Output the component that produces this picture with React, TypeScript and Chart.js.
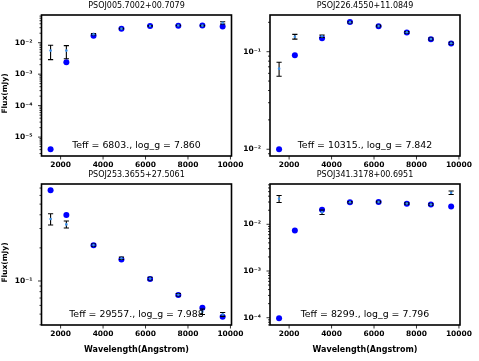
import { useEffect, useRef } from "react";
import { Chart, registerables } from "chart.js";

Chart.register(...registerables);

// ---------- data ----------
const WAVELENGTHS = [1528, 2271, 3551, 4866, 6215, 7545, 8679, 9633];
const X_TICKS = [2000, 4000, 6000, 8000, 10000];
const X_MIN = 1100;
const X_MAX = 10050;

const TITLES = [
  "PSOJ005.7002+00.7079",
  "PSOJ226.4550+11.0849",
  "PSOJ253.3655+27.5061",
  "PSOJ341.3178+00.6951",
];
const NOTES = [
  "Teff = 6803., log_g = 7.860",
  "Teff = 10315., log_g = 7.842",
  "Teff = 29557., log_g = 7.988",
  "Teff = 8299., log_g = 7.796",
];

const MODEL_1 = [4.1e-6, 2.4e-3, 0.0167, 0.0278, 0.034, 0.0346, 0.035, 0.033];
const OBS_1 = [5.6e-3, 5.6e-3, 0.0185, 0.028, 0.034, 0.0352, 0.0348, 0.0428];
const ERR_1 = [2.7e-3, 2.5e-3, 0.001, 0.0008, 0.0008, 0.0008, 0.0008, 0.0035];
const Y_RANGE_1 = [2.51e-6, 0.0759];
const Y_MAJOR_1 = [1e-5, 1e-4, 1e-3, 1e-2];
const Y_LABELS_1 = ["10⁻⁵", "10⁻⁴", "10⁻³", "10⁻²"];

const MODEL_2 = [0.01, 0.092, 0.137, 0.201, 0.182, 0.157, 0.134, 0.121];
const OBS_2 = [0.067, 0.1425, 0.144, 0.2, 0.183, 0.158, 0.135, 0.122];
const ERR_2 = [0.011, 0.008, 0.004, 0.003, 0.003, 0.003, 0.003, 0.003];
const Y_RANGE_2 = [0.00853, 0.2377];
const Y_MAJOR_2 = [1e-2, 1e-1];
const Y_LABELS_2 = ["10⁻²", "10⁻¹"];

const MODEL_3 = [0.668, 0.398, 0.211, 0.157, 0.104, 0.0746, 0.0572, 0.0473];
const OBS_3 = [0.366, 0.327, 0.212, 0.161, 0.105, 0.075, 0.0526, 0.0497];
const ERR_3 = [0.043, 0.024, 0.005, 0.004, 0.003, 0.002, 0.003, 0.002];
const Y_RANGE_3 = [0.0398, 0.762];
const Y_MAJOR_3 = [1e-1];
const Y_LABELS_3 = ["10⁻¹"];

const MODEL_4 = [9.7e-5, 7.4e-3, 0.0206, 0.0296, 0.03, 0.0277, 0.0265, 0.024];
const OBS_4 = [0.0353, null, 0.0182, 0.0296, 0.03, 0.0278, 0.0265, 0.0475];
const ERR_4 = [0.006, null, 0.002, 0.001, 0.001, 0.001, 0.001, 0.004];
const Y_RANGE_4 = [6.98e-5, 0.0729];
const Y_MAJOR_4 = [1e-4, 1e-3, 1e-2];
const Y_LABELS_4 = ["10⁻⁴", "10⁻³", "10⁻²"];

const FONT = "DejaVu Sans";

type PanelSpec = {
  title: string;
  note: string;
  model: (number | null)[];
  obs: (number | null)[];
  err: (number | null)[];
  yRange: number[];
  yMajor: number[];
  yLabels: string[];
  left: number;
  top: number;
  width: number;
  height: number;
  axisWidth: number;
  padRight: number;
  axisHeight: number;
  xTitle: boolean;
  yTitle: boolean;
};

const PANELS: PanelSpec[] = [
  {
    title: TITLES[0], note: NOTES[0], model: MODEL_1, obs: OBS_1, err: ERR_1,
    yRange: Y_RANGE_1, yMajor: Y_MAJOR_1, yLabels: Y_LABELS_1,
    left: 0, top: 0, width: 250, height: 180, axisWidth: 41.5, padRight: 18.5, axisHeight: 24,
    xTitle: false, yTitle: true,
  },
  {
    title: TITLES[1], note: NOTES[1], model: MODEL_2, obs: OBS_2, err: ERR_2,
    yRange: Y_RANGE_2, yMajor: Y_MAJOR_2, yLabels: Y_LABELS_2,
    left: 240, top: 0, width: 239, height: 180, axisWidth: 30, padRight: 19, axisHeight: 24,
    xTitle: false, yTitle: false,
  },
  {
    title: TITLES[2], note: NOTES[2], model: MODEL_3, obs: OBS_3, err: ERR_3,
    yRange: Y_RANGE_3, yMajor: Y_MAJOR_3, yLabels: Y_LABELS_3,
    left: 0, top: 169, width: 250, height: 192, axisWidth: 41.5, padRight: 18.5, axisHeight: 36,
    xTitle: true, yTitle: true,
  },
  {
    title: TITLES[3], note: NOTES[3], model: MODEL_4, obs: OBS_4, err: ERR_4,
    yRange: Y_RANGE_4, yMajor: Y_MAJOR_4, yLabels: Y_LABELS_4,
    left: 240, top: 169, width: 239, height: 192, axisWidth: 30, padRight: 19, axisHeight: 36,
    xTitle: true, yTitle: false,
  },
];

// log-axis tick positions (major decades plus 2..9 minor marks)
function logTicks(min: number, max: number) {
  const out: { value: number; major: boolean }[] = [];
  const d0 = Math.floor(Math.log10(min));
  const d1 = Math.ceil(Math.log10(max));
  for (let d = d0; d <= d1; d++) {
    for (let k = 1; k <= 9; k++) {
      const v = k * Math.pow(10, d);
      if (v >= min && v <= max) out.push({ value: v, major: k === 1 });
    }
  }
  return out;
}

function Panel({ spec }: { spec: PanelSpec }) {
  const ref = useRef<HTMLCanvasElement | null>(null);

  useEffect(() => {
    if (!ref.current) return;
    const obsPts = WAVELENGTHS.map((w, i) => ({ x: w, y: spec.obs[i] })).filter((p) => p.y != null);
    const modelPts = WAVELENGTHS.map((w, i) => ({ x: w, y: spec.model[i] })).filter((p) => p.y != null);

    const decor = {
      id: "decor",
      beforeDatasetDraw(chart: any, args: any) {
        if (args.index !== 0) return;
        const xs = chart.scales.x;
        const ys = chart.scales.y;
        const ctx = chart.ctx;
        ctx.save();
        ctx.strokeStyle = "#000";
        ctx.lineWidth = 1.1;
        WAVELENGTHS.forEach((w, i) => {
          const o = spec.obs[i];
          const e = spec.err[i];
          if (o == null || e == null) return;
          const px = xs.getPixelForValue(w);
          const y1 = ys.getPixelForValue(o - e);
          const y2 = ys.getPixelForValue(o + e);
          ctx.beginPath();
          ctx.moveTo(px, y1);
          ctx.lineTo(px, y2);
          ctx.moveTo(px - 2.6, y1);
          ctx.lineTo(px + 2.6, y1);
          ctx.moveTo(px - 2.6, y2);
          ctx.lineTo(px + 2.6, y2);
          ctx.stroke();
        });
        ctx.restore();
      },
      afterDraw(chart: any) {
        const { ctx, chartArea } = chart;
        const xs = chart.scales.x;
        const ys = chart.scales.y;
        ctx.save();
        // tick marks
        ctx.strokeStyle = "#000";
        ctx.lineWidth = 0.8;
        ctx.beginPath();
        xs.ticks.forEach((t: any) => {
          const px = xs.getPixelForValue(t.value);
          ctx.moveTo(px, chartArea.bottom);
          ctx.lineTo(px, chartArea.bottom + 3.5);
        });
        ys.ticks.forEach((t: any) => {
          const py = ys.getPixelForValue(t.value);
          const len = t.major ? 3.5 : 2;
          ctx.moveTo(chartArea.left, py);
          ctx.lineTo(chartArea.left - len, py);
        });
        ctx.stroke();
        // frame
        ctx.lineWidth = 1.6;
        ctx.strokeRect(chartArea.left, chartArea.top, chartArea.right - chartArea.left, chartArea.bottom - chartArea.top);
        // annotation
        ctx.fillStyle = "#000";
        ctx.font = `9.4px "${FONT}"`;
        ctx.textAlign = "center";
        ctx.textBaseline = "middle";
        ctx.fillText(spec.note, (chartArea.left + chartArea.right) / 2, chartArea.bottom - 10);
        // y label
        if (spec.yTitle) {
          ctx.font = `bold 7.5px "${FONT}"`;
          ctx.translate(5.5, (chartArea.top + chartArea.bottom) / 2 + 8);
          ctx.rotate(-Math.PI / 2);
          ctx.fillText("Flux(mJy)", 0, 0);
        }
        ctx.restore();
      },
    };

    const tickFont = { family: FONT, size: 7.5, weight: "bold" as const, lineHeight: 1.2 };
    const labelFont = { family: FONT, size: 8, weight: "bold" as const, lineHeight: 1.2 };

    const chart = new Chart(ref.current, {
      type: "scatter",
      data: {
        datasets: [
          {
            label: "observed",
            data: obsPts as any,
            pointRadius: 1.3,
            pointHoverRadius: 1.3,
            pointBorderWidth: 0,
            backgroundColor: "#3a8ee6",
            borderColor: "#3a8ee6",
          },
          {
            label: "model",
            data: modelPts as any,
            pointRadius: 3,
            pointHoverRadius: 3,
            pointBorderWidth: 0,
            backgroundColor: "#0000ff",
            borderColor: "#0000ff",
          },
        ],
      },
      options: {
        animation: false,
        responsive: false,
        maintainAspectRatio: false,
        devicePixelRatio: 1,
        events: [],
        layout: { padding: { left: 0, right: spec.padRight, top: 0, bottom: 0 } },
        plugins: {
          legend: { display: false },
          tooltip: { enabled: false },
          title: {
            display: true,
            text: spec.title,
            fullSize: false,
            color: "#000",
            font: { family: FONT, size: 8, weight: "normal", lineHeight: 1.2 },
            padding: { top: 0.7, bottom: 4.7 },
          },
        },
        scales: {
          x: {
            type: "linear",
            min: X_MIN,
            max: X_MAX,
            grid: { display: false, drawTicks: false },
            border: { display: false },
            afterBuildTicks: (scale: any) => {
              scale.ticks = X_TICKS.map((v) => ({ value: v }));
            },
            afterFit: (scale: any) => {
              scale.height = spec.axisHeight;
            },
            ticks: {
              autoSkip: false,
              maxRotation: 0,
              minRotation: 0,
              padding: 5,
              color: "#000",
              font: tickFont,
              callback: (v: any) => String(v),
            },
            title: {
              display: spec.xTitle,
              text: "Wavelength(Angstrom)",
              color: "#000",
              font: labelFont,
              padding: { top: 0, bottom: 6.3 },
            },
          },
          y: {
            type: "logarithmic",
            min: spec.yRange[0],
            max: spec.yRange[1],
            grid: { display: false, drawTicks: false },
            border: { display: false },
            afterBuildTicks: (scale: any) => {
              scale.ticks = logTicks(spec.yRange[0], spec.yRange[1]);
            },
            afterFit: (scale: any) => {
              scale.width = spec.axisWidth;
            },
            ticks: {
              autoSkip: false,
              padding: 9,
              color: "#000",
              font: tickFont,
              callback: (v: any) => {
                const idx = spec.yMajor.findIndex((m) => Math.abs(Math.log10(m) - Math.log10(Number(v))) < 1e-6);
                return idx >= 0 ? spec.yLabels[idx] : "";
              },
            },
          },
        },
      },
      plugins: [decor],
    });
    return () => chart.destroy();
  }, [spec]);

  return (
    <canvas
      ref={ref}
      width={spec.width}
      height={spec.height}
      style={{
        position: "absolute",
        left: spec.left,
        top: spec.top,
        width: spec.width,
        height: spec.height,
      }}
    />
  );
}

export default function App() {
  return (
    <div
      style={{
        position: "fixed",
        left: 0,
        top: 0,
        width: 479,
        height: 361,
        background: "#fff",
        overflow: "hidden",
      }}
    >
      {PANELS.map((p, i) => (
        <Panel key={i} spec={p} />
      ))}
    </div>
  );
}
